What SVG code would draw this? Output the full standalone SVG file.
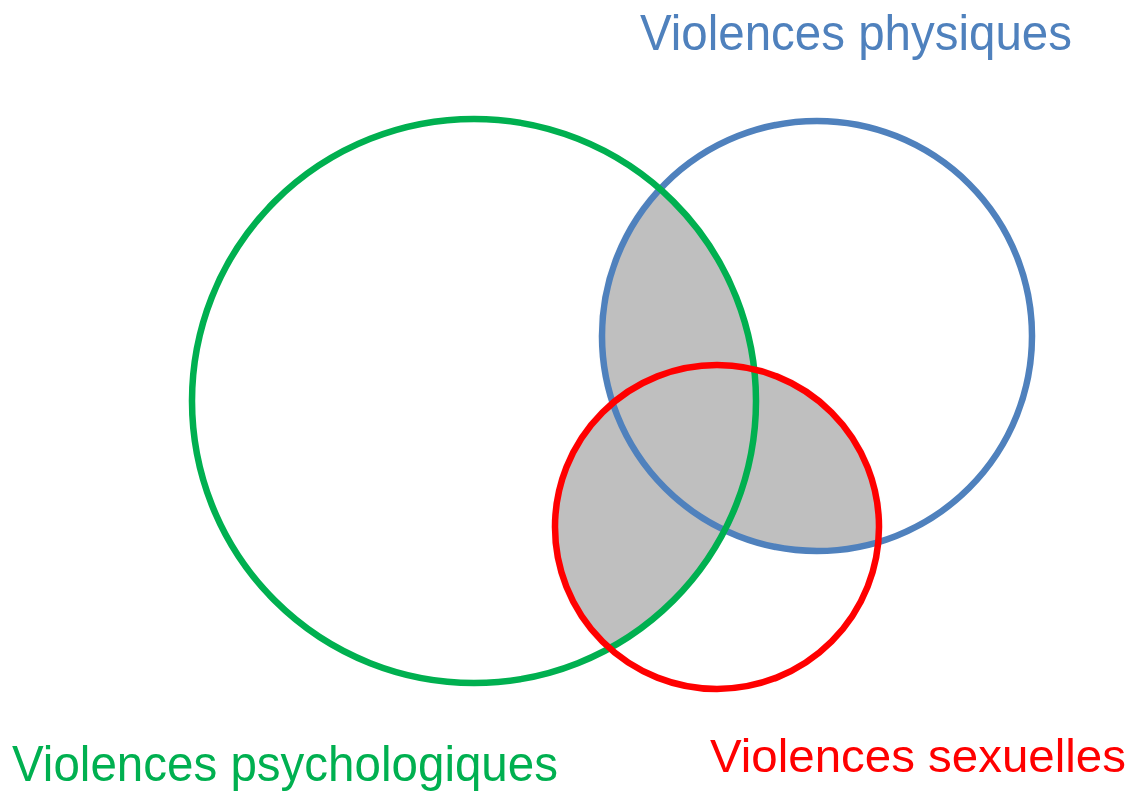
<svg xmlns="http://www.w3.org/2000/svg" width="1130" height="792" viewBox="0 0 1130 792">
<style>
.ring{fill:none;stroke-width:6.5}
.lbl{font-family:"Liberation Sans",Arial,sans-serif}
</style>
<defs>
<clipPath id="cG"><circle cx="474" cy="401" r="282"/></clipPath>
<clipPath id="cB"><circle cx="817" cy="336" r="215"/></clipPath>
<clipPath id="cR"><circle cx="717" cy="527" r="162"/></clipPath>
<filter id="soft" x="-10%" y="-10%" width="120%" height="120%"><feGaussianBlur stdDeviation="1"/></filter>
</defs>
<rect width="1130" height="792" fill="#fff"/>
<g id="overlap" fill="#bfbfbf" filter="url(#soft)">
<g clip-path="url(#cG)"><circle cx="817" cy="336" r="217"/><circle cx="717" cy="527" r="164"/></g>
<g clip-path="url(#cB)"><circle cx="717" cy="527" r="164"/></g>
</g>
<g id="node-physique"><circle class="ring" cx="817" cy="336" r="215" stroke="#4f81bd"/></g>
<g id="node-psycho"><circle class="ring" cx="474" cy="401" r="282" stroke="#00b050"/></g>
<g id="node-sexuel"><circle class="ring" cx="717" cy="527" r="162" stroke="#ff0000"/></g>
<g id="connectors"/>
<g id="labels" class="lbl">
<text x="640" y="50" font-size="50" fill="#4f81bd" textLength="432" lengthAdjust="spacingAndGlyphs">Violences physiques</text>
<text x="12" y="781" font-size="50" fill="#00b050" textLength="546" lengthAdjust="spacingAndGlyphs">Violences psychologiques</text>
<text x="710" y="772" font-size="47" fill="#ff0000" textLength="416" lengthAdjust="spacingAndGlyphs">Violences sexuelles</text>
</g>
</svg>
